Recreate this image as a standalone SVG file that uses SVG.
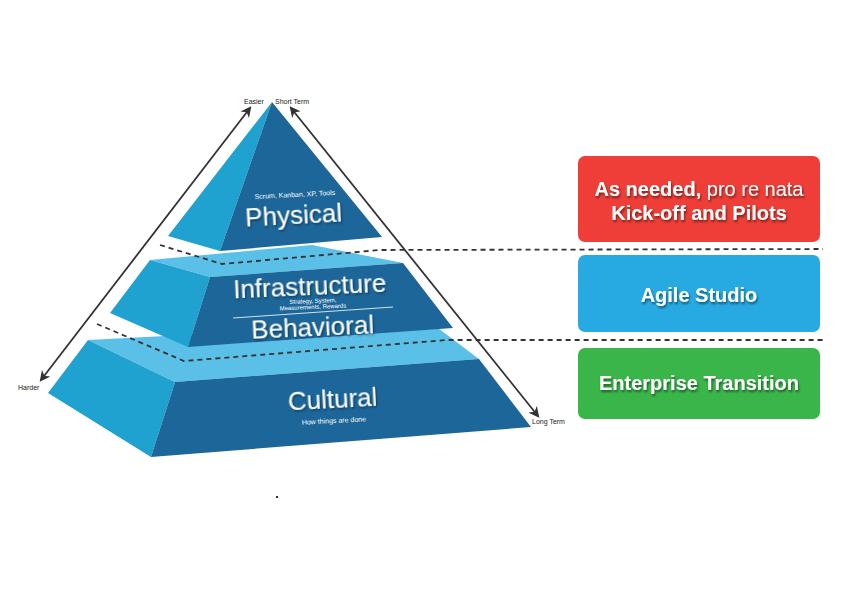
<svg xmlns="http://www.w3.org/2000/svg" width="842" height="596" viewBox="0 0 842 596">
<defs>
<style>
.dark{fill:#1C6699}
.side{fill:#1FA2CF}
.top{fill:#5BC0E8}
.big{font-family:"Liberation Sans",Arial,sans-serif;fill:#fff;font-size:26px;text-anchor:middle;filter:url(#sh)}
.sm{font-family:"Liberation Sans",Arial,sans-serif;fill:#fff;font-size:7px;text-anchor:middle}
.lbl{font-family:"Liberation Sans",Arial,sans-serif;fill:#222;font-size:7px}
.btxt{font-family:"Liberation Sans",Arial,sans-serif;fill:#fff;font-size:20px;font-weight:bold;text-anchor:middle;filter:url(#sh2)}
.dash{fill:none;stroke:#333;stroke-width:1.8;stroke-dasharray:5,4}
.arr{fill:none;stroke:#333;stroke-width:1.8;marker-start:url(#ah);marker-end:url(#ah)}
</style>
<filter id="sh" x="-10%" y="-30%" width="130%" height="170%"><feDropShadow dx="1" dy="1.5" stdDeviation="1" flood-color="#000" flood-opacity="0.45"/></filter>
<filter id="sh2" x="-10%" y="-30%" width="130%" height="170%"><feDropShadow dx="1" dy="2" stdDeviation="1.2" flood-color="#000" flood-opacity="0.5"/></filter>
<marker id="ah" viewBox="0 0 10 10" refX="8" refY="5" markerWidth="6" markerHeight="6" orient="auto-start-reverse" markerUnits="strokeWidth"><path d="M0,0 L10,5 L0,10 L3,5 Z" fill="#333"/></marker>
</defs>
<rect width="842" height="596" fill="#fff"/>

<g id="tier-cultural">
<polygon class="top" points="88,340 430,322 479,359 175,382"/>
<polygon class="side" points="88,340 175,382 151,457 48,393"/>
<polygon class="dark" points="175,382 479,359 531,427 151,457"/>
<text class="big" transform="translate(333,408) rotate(-3)">Cultural</text>
<text class="sm" transform="translate(334,423) rotate(-3)">How things are done</text>
</g>

<g id="tier-behavioral">
<polygon class="top" points="150,260 312,245 403,263 210,277"/>
<polygon class="side" points="150,260 210,277 188,347 110,313"/>
<polygon class="dark" points="210,277 403,263 453,328 188,347"/>
<text class="big" transform="translate(310,295) rotate(-2.5)">Infrastructure</text>
<text class="sm" style="font-size:6px" transform="translate(313,303) rotate(-2.5)">Strategy, System,</text>
<text class="sm" style="font-size:6px" transform="translate(313,309) rotate(-2.5)">Measurements, Rewards</text>
<line x1="233" y1="318" x2="393" y2="307" stroke="#cfe3f0" stroke-width="1"/>
<text class="big" transform="translate(313,336) rotate(-2.5)">Behavioral</text>
</g>

<g id="tier-physical">
<polygon class="side" points="272,102 168,236 220,251"/>
<polygon class="dark" points="272,102 220,251 382,237"/>
<text class="sm" transform="translate(295,197) rotate(-3)">Scrum, Kanban, XP, Tools</text>
<text class="big" transform="translate(294,224) rotate(-3)">Physical</text>
</g>

<g id="connectors">
<polyline class="dash" points="160,245 222,264 380,250 823,249"/>
<polyline class="dash" points="97,324 184,361 447,340 823,340"/>
<line class="arr" x1="250" y1="108" x2="41" y2="380"/>
<line class="arr" x1="291" y1="108" x2="538" y2="416"/>
</g>

<g id="labels">
<text class="lbl" x="244" y="104">Easier</text>
<text class="lbl" x="275" y="104">Short Term</text>
<text class="lbl" x="18" y="390">Harder</text>
<text class="lbl" x="532" y="424">Long Term</text>
<rect x="276" y="496" width="2" height="2" fill="#333"/>
</g>

<g id="box-red">
<rect x="578" y="156" width="242" height="86" rx="7" fill="#EE3E37"/>
<text class="btxt" x="699" y="196"><tspan>As needed,</tspan><tspan font-weight="normal"> pro re nata</tspan></text>
<text class="btxt" x="699" y="220">Kick-off and Pilots</text>
</g>
<g id="box-blue">
<rect x="578" y="255" width="242" height="77" rx="7" fill="#27A9E1"/>
<text class="btxt" x="699" y="302">Agile Studio</text>
</g>
<g id="box-green">
<rect x="578" y="348" width="242" height="71" rx="7" fill="#3AB54A"/>
<text class="btxt" x="699" y="390">Enterprise Transition</text>
</g>
</svg>
